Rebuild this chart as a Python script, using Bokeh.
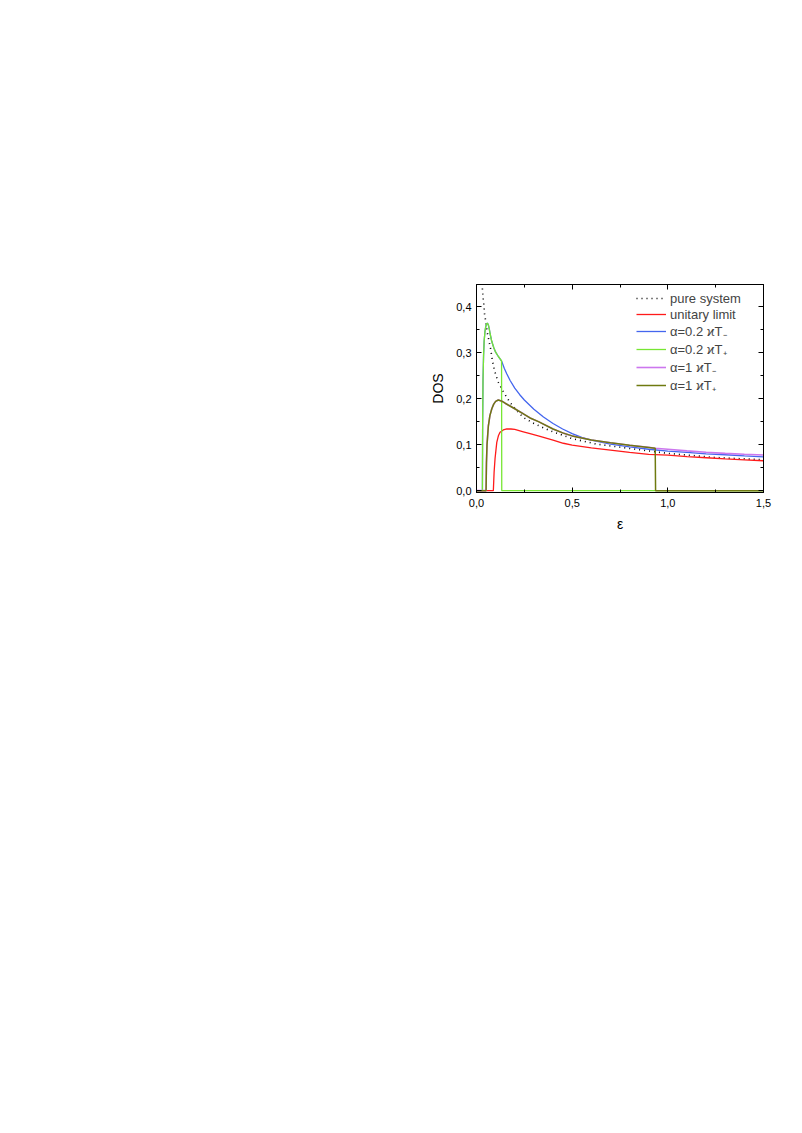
from bokeh.plotting import figure
from bokeh.models import (LinearAxis, FixedTicker, CustomJSTickFormatter, Range1d,
                          Legend, LegendItem)
from bokeh.embed import file_html
from bokeh.resources import INLINE

# ---- data ----
pure_x = [0.029, 0.032, 0.035, 0.039, 0.042, 0.049, 0.056, 0.065, 0.074, 0.083, 0.092,
          0.102, 0.115, 0.14, 0.175, 0.21, 0.245, 0.30, 0.385, 0.454, 0.50, 0.629,
          0.76, 1.0, 1.25, 1.5]
pure_y = [0.45, 0.431, 0.417, 0.402, 0.384, 0.366, 0.344, 0.326, 0.308, 0.283, 0.265,
          0.25, 0.235, 0.215, 0.192, 0.174, 0.159, 0.146, 0.130, 0.120, 0.113, 0.101,
          0.094, 0.081, 0.072, 0.067]

unit_x = [0.0, 0.088, 0.090, 0.092, 0.097, 0.106, 0.115, 0.123, 0.14, 0.158, 0.18, 0.2,
          0.245, 0.28, 0.332, 0.4, 0.454, 0.5, 0.6, 0.7, 0.8, 0.9, 1.0, 1.1, 1.2, 1.3,
          1.4, 1.5]
unit_y = [0.0, 0.0, 0.02, 0.04, 0.07, 0.105, 0.12, 0.127, 0.132, 0.134, 0.134, 0.133,
          0.128, 0.124, 0.118, 0.110, 0.103, 0.099, 0.093, 0.088, 0.083, 0.079, 0.077,
          0.074, 0.0715, 0.069, 0.067, 0.065]

a02m_x = [0.0, 0.031, 0.032, 0.034, 0.037, 0.040, 0.044, 0.048, 0.052, 0.057, 0.062,
          0.067, 0.071, 0.080, 0.090, 0.100, 0.115, 0.132, 0.145, 0.158, 0.175, 0.2,
          0.225, 0.25, 0.30, 0.35, 0.40, 0.45, 0.5, 0.55, 0.6, 0.7, 0.8, 0.9, 1.0, 1.1,
          1.2, 1.3, 1.4, 1.5]
a02m_y = [0.0, 0.0, 0.14, 0.24, 0.295, 0.325, 0.345, 0.356, 0.362, 0.364, 0.360,
          0.351, 0.341, 0.324, 0.311, 0.301, 0.291, 0.281, 0.266, 0.254, 0.240, 0.223,
          0.209, 0.197, 0.177, 0.160, 0.146, 0.134, 0.124, 0.116, 0.110, 0.101, 0.095,
          0.090, 0.086, 0.083, 0.080, 0.078, 0.0755, 0.0735]

a02p_x = [0.0, 0.031, 0.032, 0.034, 0.037, 0.040, 0.044, 0.048, 0.052, 0.057, 0.062,
          0.067, 0.071, 0.080, 0.090, 0.100, 0.115, 0.131, 0.132, 1.5]
a02p_y = [0.0, 0.0, 0.14, 0.24, 0.295, 0.325, 0.345, 0.356, 0.362, 0.364, 0.360,
          0.351, 0.341, 0.324, 0.311, 0.301, 0.291, 0.282, 0.0, 0.0]

a1m_x = [0.0, 0.050, 0.052, 0.055, 0.062, 0.070, 0.080, 0.090, 0.100, 0.114, 0.130,
         0.150, 0.175, 0.2, 0.245, 0.28, 0.324, 0.4, 0.454, 0.5, 0.6, 0.7, 0.8, 0.9,
         0.934, 1.0, 1.1, 1.2, 1.3, 1.4, 1.5]
a1m_y = [0.0, 0.0, 0.06, 0.10, 0.141, 0.163, 0.178, 0.188, 0.194, 0.197, 0.195,
         0.190, 0.184, 0.178, 0.167, 0.158, 0.150, 0.134, 0.125, 0.119, 0.110, 0.104,
         0.0985, 0.094, 0.092, 0.090, 0.0865, 0.0835, 0.081, 0.079, 0.0775]

a1p_x = [0.0, 0.050, 0.052, 0.055, 0.062, 0.070, 0.080, 0.090, 0.100, 0.114, 0.130,
         0.150, 0.175, 0.2, 0.245, 0.28, 0.324, 0.4, 0.454, 0.5, 0.6, 0.7, 0.8, 0.9,
         0.934, 0.936, 1.5]
a1p_y = [0.0, 0.0, 0.06, 0.10, 0.141, 0.163, 0.178, 0.188, 0.194, 0.197, 0.195,
         0.190, 0.184, 0.178, 0.167, 0.158, 0.150, 0.134, 0.125, 0.119, 0.110, 0.104,
         0.0985, 0.094, 0.092, 0.0, 0.0]

x_ticks = [0.0, 0.5, 1.0, 1.5]
x_minor = [0.25, 0.75, 1.25]
y_ticks = [0.0, 0.1, 0.2, 0.3, 0.4]
y_minor = [0.05, 0.15, 0.25, 0.35, 0.45]

labels = ["pure system", "unitary limit", "\u03b1=0.2 \u03f0T\u208b",
          "\u03b1=0.2 \u03f0T\u208a", "\u03b1=1 \u03f0T\u208b", "\u03b1=1 \u03f0T\u208a"]

FONT = "Liberation Sans"

p = figure(frame_width=287, frame_height=208, output_backend="svg",
           toolbar_location=None, x_range=Range1d(0, 1.5), y_range=Range1d(-0.004, 0.448),
           min_border_left=476, min_border_top=284, min_border_right=20,
           min_border_bottom=45, background_fill_color="white", border_fill_color="white")
p.grid.visible = False
p.outline_line_color = "black"
p.outline_line_width = 1

comma = CustomJSTickFormatter(code="return tick.toFixed(1).replace('.', ',');")
blank = CustomJSTickFormatter(code="return '';")

def style(ax, ticks, minor, fmt):
    ax.ticker = FixedTicker(ticks=ticks, minor_ticks=minor)
    ax.formatter = fmt
    ax.major_tick_in = 5
    ax.major_tick_out = 0
    ax.minor_tick_in = 3
    ax.minor_tick_out = 0
    ax.axis_line_color = "black"
    ax.major_tick_line_color = "black"
    ax.minor_tick_line_color = "black"
    ax.major_label_text_font = FONT
    ax.major_label_text_font_size = "11px"
    ax.major_label_text_color = "black"

style(p.xaxis[0], x_ticks, x_minor, comma)
style(p.yaxis[0], y_ticks, y_minor, comma)
p.xaxis[0].major_label_standoff = 6
p.yaxis[0].major_label_standoff = 5
p.xaxis[0].axis_label = "\u03b5"
p.yaxis[0].axis_label = "DOS"
for ax in (p.xaxis[0], p.yaxis[0]):
    ax.axis_label_text_font = FONT
    ax.axis_label_text_font_size = "14px"
    ax.axis_label_text_font_style = "normal"
    ax.axis_label_text_color = "black"
p.xaxis[0].axis_label_standoff = 6
p.yaxis[0].axis_label_standoff = 7

top = LinearAxis()
style(top, x_ticks, x_minor, blank)
right = LinearAxis()
style(right, y_ticks, y_minor, blank)
p.add_layout(top, "above")
p.add_layout(right, "right")

r_pure = p.line(pure_x, pure_y, line_color="black", line_width=1.6, line_dash="1 4")
r_unit = p.line(unit_x, unit_y, line_color="#ff1a1a", line_width=1.3)
r_a02m = p.line(a02m_x, a02m_y, line_color="#4466ee", line_width=1.3)
r_a02p = p.line(a02p_x, a02p_y, line_color="#77e633", line_width=1.3)
r_a1m = p.line(a1m_x, a1m_y, line_color="#cc77ee", line_width=1.6)
r_a1p = p.line(a1p_x, a1p_y, line_color="#6f7a10", line_width=1.5)

items = [LegendItem(label=l, renderers=[r]) for l, r in
         zip(labels, [r_pure, r_unit, r_a02m, r_a02p, r_a1m, r_a1p])]
leg = Legend(items=items, location=(160, 98), border_line_color=None,
             background_fill_alpha=0, label_text_font=FONT, label_text_font_size="13px",
             label_height=16, glyph_height=16, glyph_width=30, spacing=0, padding=2,
             margin=0, label_standoff=4)
p.add_layout(leg, "center")

open("out.html", "w").write(file_html(p, INLINE))
